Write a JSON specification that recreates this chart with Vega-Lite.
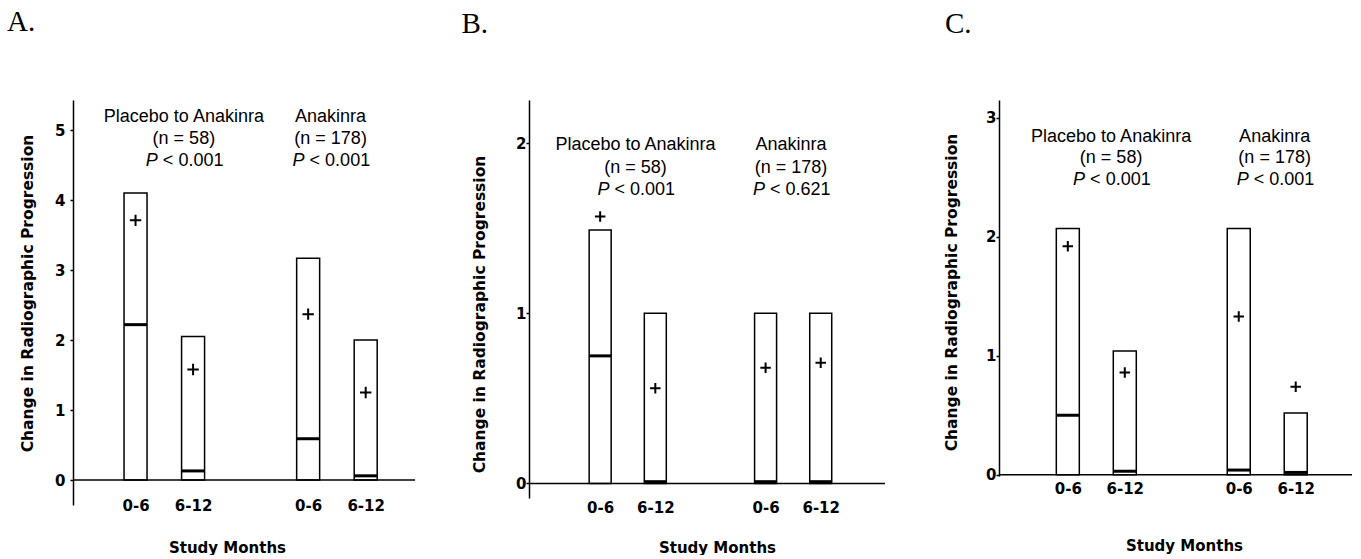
{
  "$schema": "https://vega.github.io/schema/vega-lite/v6.json",
  "background": "white",
  "padding": {"left": 7, "top": 8, "right": 0, "bottom": 0},
  "spacing": 114,
  "bounds": "flush",
  "config": {
    "view": {"stroke": null},
    "axis": {
      "grid": false,
      "labelFont": "DejaVu Sans",
      "labelFontWeight": "bold",
      "labelFontSize": 15,
      "labelColor": "black",
      "titleFont": "DejaVu Sans",
      "titleFontSize": 15,
      "titleFontWeight": "bold",
      "titleColor": "black",
      "domainColor": "black",
      "domainWidth": 1.5,
      "tickColor": "black",
      "tickWidth": 1.5
    },
    "axisY": {"titleFontSize": 15.5},
    "title": {"font": "Liberation Serif", "fontSize": 29, "fontWeight": "normal", "color": "black", "anchor": "start", "frame": "group"}
  },
  "datasets": {
    "boxes": [
      {"panel": "A", "pos": 1, "months": "0-6", "q1": 0, "median": 2.22, "q3": 4.1, "mean": 3.71},
      {"panel": "A", "pos": 2, "months": "6-12", "q1": 0, "median": 0.13, "q3": 2.05, "mean": 1.58},
      {"panel": "A", "pos": 4, "months": "0-6", "q1": 0, "median": 0.59, "q3": 3.17, "mean": 2.37},
      {"panel": "A", "pos": 5, "months": "6-12", "q1": 0, "median": 0.06, "q3": 2.0, "mean": 1.25},
      {"panel": "B", "pos": 1, "months": "0-6", "q1": 0, "median": 0.75, "q3": 1.49, "mean": 1.57},
      {"panel": "B", "pos": 2, "months": "6-12", "q1": 0, "median": 0.01, "q3": 1.0, "mean": 0.56},
      {"panel": "B", "pos": 4, "months": "0-6", "q1": 0, "median": 0.01, "q3": 1.0, "mean": 0.68},
      {"panel": "B", "pos": 5, "months": "6-12", "q1": 0, "median": 0.01, "q3": 1.0, "mean": 0.71},
      {"panel": "C", "pos": 1, "months": "0-6", "q1": 0, "median": 0.5, "q3": 2.07, "mean": 1.92},
      {"panel": "C", "pos": 2, "months": "6-12", "q1": 0, "median": 0.03, "q3": 1.04, "mean": 0.86},
      {"panel": "C", "pos": 4, "months": "0-6", "q1": 0, "median": 0.04, "q3": 2.07, "mean": 1.33},
      {"panel": "C", "pos": 5, "months": "6-12", "q1": 0, "median": 0.02, "q3": 0.52, "mean": 0.74}
    ],
    "notes": [
      {"panel": "A", "group": "Placebo to Anakinra", "n": "(n = 58)", "p": "< 0.001", "at": 1.84},
      {"panel": "A", "group": "Anakinra", "n": "(n = 178)", "p": "< 0.001", "at": 4.39},
      {"panel": "B", "group": "Placebo to Anakinra", "n": "(n = 58)", "p": "< 0.001", "at": 1.64},
      {"panel": "B", "group": "Anakinra", "n": "(n = 178)", "p": "< 0.621", "at": 4.46},
      {"panel": "C", "group": "Placebo to Anakinra", "n": "(n = 58)", "p": "< 0.001", "at": 1.76},
      {"panel": "C", "group": "Anakinra", "n": "(n = 178)", "p": "< 0.001", "at": 4.63}
    ]
  },
  "hconcat": [
    {
      "width": 342,
      "height": 405,
      "title": {"text": "A.", "dx": -66, "offset": 63},
      "layer": [
        {
          "data": {"name": "boxes"},
          "transform": [{"filter": "datum.panel === 'A'"}],
          "mark": {"type": "bar", "size": 23, "fill": "white", "stroke": "black", "strokeWidth": 1.5},
          "encoding": {
            "x": {"field": "pos", "type": "quantitative", "scale": {"domain": [0, 5.77], "nice": false, "zero": false},
              "axis": {"values": [1, 2, 4, 5], "labelExpr": "datum.value == 1 || datum.value == 4 ? '0-6' : '6-12'", "ticks": false, "domain": false, "labelBaseline": "middle", "labelPadding": 0, "labelFlush": false, "labelOverlap": false,
                "title": "Study Months", "titleX": 154, "titleY": 42, "titleBaseline": "middle", "titleAlign": "center"}},
            "y": {"field": "q1", "type": "quantitative", "scale": {"domain": [-0.357, 5.43], "nice": false, "zero": false},
              "axis": {"values": [0, 1, 2, 3, 4, 5], "format": "d", "tickSize": 3, "labelPadding": 5, "labelBaseline": "middle",
                "title": "Change in Radiographic Progression", "titleX": -46, "titleY": 193, "titleBaseline": "middle", "titleAlign": "center", "titleAngle": 270}},
            "y2": {"field": "q3"}
          }
        },
        {
          "data": {"values": [{}]},
          "mark": {"type": "rule", "color": "black", "strokeWidth": 1.5},
          "encoding": {"y": {"datum": 0}}
        },
        {
          "data": {"name": "boxes"},
          "transform": [{"filter": "datum.panel === 'A'"}],
          "mark": {"type": "tick", "orient": "horizontal", "size": 23, "thickness": 3, "color": "black", "opacity": 1},
          "encoding": {"x": {"field": "pos", "type": "quantitative"}, "y": {"field": "median", "type": "quantitative"}}
        },
        {
          "data": {"name": "boxes"},
          "transform": [{"filter": "datum.panel === 'A'"}],
          "mark": {"type": "point", "shape": "M-1,0H1M0,-1V1", "size": 130, "filled": false, "stroke": "black", "strokeWidth": 2, "opacity": 1},
          "encoding": {"x": {"field": "pos", "type": "quantitative"}, "y": {"field": "mean", "type": "quantitative"}}
        },
        {
          "data": {"name": "notes"},
          "transform": [{"filter": "datum.panel === 'A'"}],
          "mark": {"type": "text", "font": "Liberation Sans", "fontSize": 18, "baseline": "middle", "align": "center", "color": "black"},
          "encoding": {"x": {"field": "at", "type": "quantitative"}, "y": {"datum": 5.186}, "text": {"field": "group"}}
        },
        {
          "data": {"name": "notes"},
          "transform": [{"filter": "datum.panel === 'A'"}],
          "mark": {"type": "text", "font": "Liberation Sans", "fontSize": 18, "baseline": "middle", "align": "center", "dy": 22, "color": "black"},
          "encoding": {"x": {"field": "at", "type": "quantitative"}, "y": {"datum": 5.186}, "text": {"field": "n"}}
        },
        {
          "data": {"name": "notes"},
          "transform": [{"filter": "datum.panel === 'A'"}],
          "mark": {"type": "text", "font": "Liberation Sans", "fontSize": 18, "fontStyle": "italic", "baseline": "middle", "align": "left", "dx": -38, "dy": 43.5, "color": "black"},
          "encoding": {"x": {"field": "at", "type": "quantitative"}, "y": {"datum": 5.186}, "text": {"value": "P"}}
        },
        {
          "data": {"name": "notes"},
          "transform": [{"filter": "datum.panel === 'A'"}],
          "mark": {"type": "text", "font": "Liberation Sans", "fontSize": 18, "baseline": "middle", "align": "left", "dx": -21, "dy": 43.5, "color": "black"},
          "encoding": {"x": {"field": "at", "type": "quantitative"}, "y": {"datum": 5.186}, "text": {"field": "p"}}
        }
      ]
    },
    {
      "width": 356,
      "height": 398,
      "title": {"text": "B.", "dx": -67.5, "offset": 61.5},
      "layer": [
        {
          "data": {"name": "boxes"},
          "transform": [{"filter": "datum.panel === 'B'"}],
          "mark": {"type": "bar", "size": 22, "fill": "white", "stroke": "black", "strokeWidth": 1.5},
          "encoding": {
            "x": {"field": "pos", "type": "quantitative", "scale": {"domain": [-0.2, 6.075], "nice": false, "zero": false},
              "axis": {"values": [1, 2, 4, 5], "labelExpr": "datum.value == 1 || datum.value == 4 ? '0-6' : '6-12'", "ticks": false, "domain": false, "labelBaseline": "middle", "labelPadding": 9, "labelFlush": false, "labelOverlap": false,
                "title": "Study Months", "titleX": 188, "titleY": 49, "titleBaseline": "middle", "titleAlign": "center"}},
            "y": {"field": "q1", "type": "quantitative", "scale": {"domain": [-0.086, 2.255], "nice": false, "zero": false},
              "axis": {"values": [0, 1, 2], "format": "d", "tickSize": 3, "labelPadding": 0, "labelBaseline": "middle",
                "title": "Change in Radiographic Progression", "titleX": -50, "titleY": 214, "titleBaseline": "middle", "titleAlign": "center", "titleAngle": 270}},
            "y2": {"field": "q3"}
          }
        },
        {
          "data": {"values": [{}]},
          "mark": {"type": "rule", "color": "black", "strokeWidth": 1.5},
          "encoding": {"y": {"datum": 0}}
        },
        {
          "data": {"name": "boxes"},
          "transform": [{"filter": "datum.panel === 'B'"}],
          "mark": {"type": "tick", "orient": "horizontal", "size": 22, "thickness": 3, "color": "black", "opacity": 1},
          "encoding": {"x": {"field": "pos", "type": "quantitative"}, "y": {"field": "median", "type": "quantitative"}}
        },
        {
          "data": {"name": "boxes"},
          "transform": [{"filter": "datum.panel === 'B'"}],
          "mark": {"type": "point", "shape": "M-1,0H1M0,-1V1", "size": 110, "filled": false, "stroke": "black", "strokeWidth": 2, "opacity": 1},
          "encoding": {"x": {"field": "pos", "type": "quantitative"}, "y": {"field": "mean", "type": "quantitative"}}
        },
        {
          "data": {"name": "notes"},
          "transform": [{"filter": "datum.panel === 'B'"}],
          "mark": {"type": "text", "font": "Liberation Sans", "fontSize": 18, "baseline": "middle", "align": "center", "color": "black"},
          "encoding": {"x": {"field": "at", "type": "quantitative"}, "y": {"datum": 1.99}, "text": {"field": "group"}}
        },
        {
          "data": {"name": "notes"},
          "transform": [{"filter": "datum.panel === 'B'"}],
          "mark": {"type": "text", "font": "Liberation Sans", "fontSize": 18, "baseline": "middle", "align": "center", "dy": 22.5, "color": "black"},
          "encoding": {"x": {"field": "at", "type": "quantitative"}, "y": {"datum": 1.99}, "text": {"field": "n"}}
        },
        {
          "data": {"name": "notes"},
          "transform": [{"filter": "datum.panel === 'B'"}],
          "mark": {"type": "text", "font": "Liberation Sans", "fontSize": 18, "fontStyle": "italic", "baseline": "middle", "align": "left", "dx": -38, "dy": 44.5, "color": "black"},
          "encoding": {"x": {"field": "at", "type": "quantitative"}, "y": {"datum": 1.99}, "text": {"value": "P"}}
        },
        {
          "data": {"name": "notes"},
          "transform": [{"filter": "datum.panel === 'B'"}],
          "mark": {"type": "text", "font": "Liberation Sans", "fontSize": 18, "baseline": "middle", "align": "left", "dx": -21, "dy": 44.5, "color": "black"},
          "encoding": {"x": {"field": "at", "type": "quantitative"}, "y": {"datum": 1.99}, "text": {"field": "p"}}
        }
      ]
    },
    {
      "width": 353,
      "height": 376,
      "title": {"text": "C.", "dx": -54, "offset": 61.5},
      "layer": [
        {
          "data": {"name": "boxes"},
          "transform": [{"filter": "datum.panel === 'C'"}],
          "mark": {"type": "bar", "size": 23, "fill": "white", "stroke": "black", "strokeWidth": 1.5},
          "encoding": {
            "x": {"field": "pos", "type": "quantitative", "scale": {"domain": [-0.12, 5.9], "nice": false, "zero": false},
              "axis": {"values": [1, 2, 4, 5], "labelExpr": "datum.value == 1 || datum.value == 4 ? '0-6' : '6-12'", "ticks": false, "domain": false, "labelBaseline": "middle", "labelPadding": 12, "labelFlush": false, "labelOverlap": false,
                "title": "Study Months", "titleX": 185, "titleY": 69, "titleBaseline": "middle", "titleAlign": "center"}},
            "y": {"field": "q1", "type": "quantitative", "scale": {"domain": [-0.01, 3.15], "nice": false, "zero": false},
              "axis": {"values": [0, 1, 2, 3], "format": "d", "tickSize": 3, "labelPadding": 0, "labelBaseline": "middle",
                "title": "Change in Radiographic Progression", "titleX": -48, "titleY": 192, "titleBaseline": "middle", "titleAlign": "center", "titleAngle": 270}},
            "y2": {"field": "q3"}
          }
        },
        {
          "data": {"values": [{}]},
          "mark": {"type": "rule", "color": "black", "strokeWidth": 1.5},
          "encoding": {"y": {"datum": 0}}
        },
        {
          "data": {"name": "boxes"},
          "transform": [{"filter": "datum.panel === 'C'"}],
          "mark": {"type": "tick", "orient": "horizontal", "size": 23, "thickness": 3, "color": "black", "opacity": 1},
          "encoding": {"x": {"field": "pos", "type": "quantitative"}, "y": {"field": "median", "type": "quantitative"}}
        },
        {
          "data": {"name": "boxes"},
          "transform": [{"filter": "datum.panel === 'C'"}],
          "mark": {"type": "point", "shape": "M-1,0H1M0,-1V1", "size": 110, "filled": false, "stroke": "black", "strokeWidth": 2, "opacity": 1},
          "encoding": {"x": {"field": "pos", "type": "quantitative"}, "y": {"field": "mean", "type": "quantitative"}}
        },
        {
          "data": {"name": "notes"},
          "transform": [{"filter": "datum.panel === 'C'"}],
          "mark": {"type": "text", "font": "Liberation Sans", "fontSize": 18, "baseline": "middle", "align": "center", "color": "black"},
          "encoding": {"x": {"field": "at", "type": "quantitative"}, "y": {"datum": 2.843}, "text": {"field": "group"}}
        },
        {
          "data": {"name": "notes"},
          "transform": [{"filter": "datum.panel === 'C'"}],
          "mark": {"type": "text", "font": "Liberation Sans", "fontSize": 18, "baseline": "middle", "align": "center", "dy": 21.7, "color": "black"},
          "encoding": {"x": {"field": "at", "type": "quantitative"}, "y": {"datum": 2.843}, "text": {"field": "n"}}
        },
        {
          "data": {"name": "notes"},
          "transform": [{"filter": "datum.panel === 'C'"}],
          "mark": {"type": "text", "font": "Liberation Sans", "fontSize": 18, "fontStyle": "italic", "baseline": "middle", "align": "left", "dx": -38, "dy": 43.4, "color": "black"},
          "encoding": {"x": {"field": "at", "type": "quantitative"}, "y": {"datum": 2.843}, "text": {"value": "P"}}
        },
        {
          "data": {"name": "notes"},
          "transform": [{"filter": "datum.panel === 'C'"}],
          "mark": {"type": "text", "font": "Liberation Sans", "fontSize": 18, "baseline": "middle", "align": "left", "dx": -21, "dy": 43.4, "color": "black"},
          "encoding": {"x": {"field": "at", "type": "quantitative"}, "y": {"datum": 2.843}, "text": {"field": "p"}}
        }
      ]
    }
  ]
}
